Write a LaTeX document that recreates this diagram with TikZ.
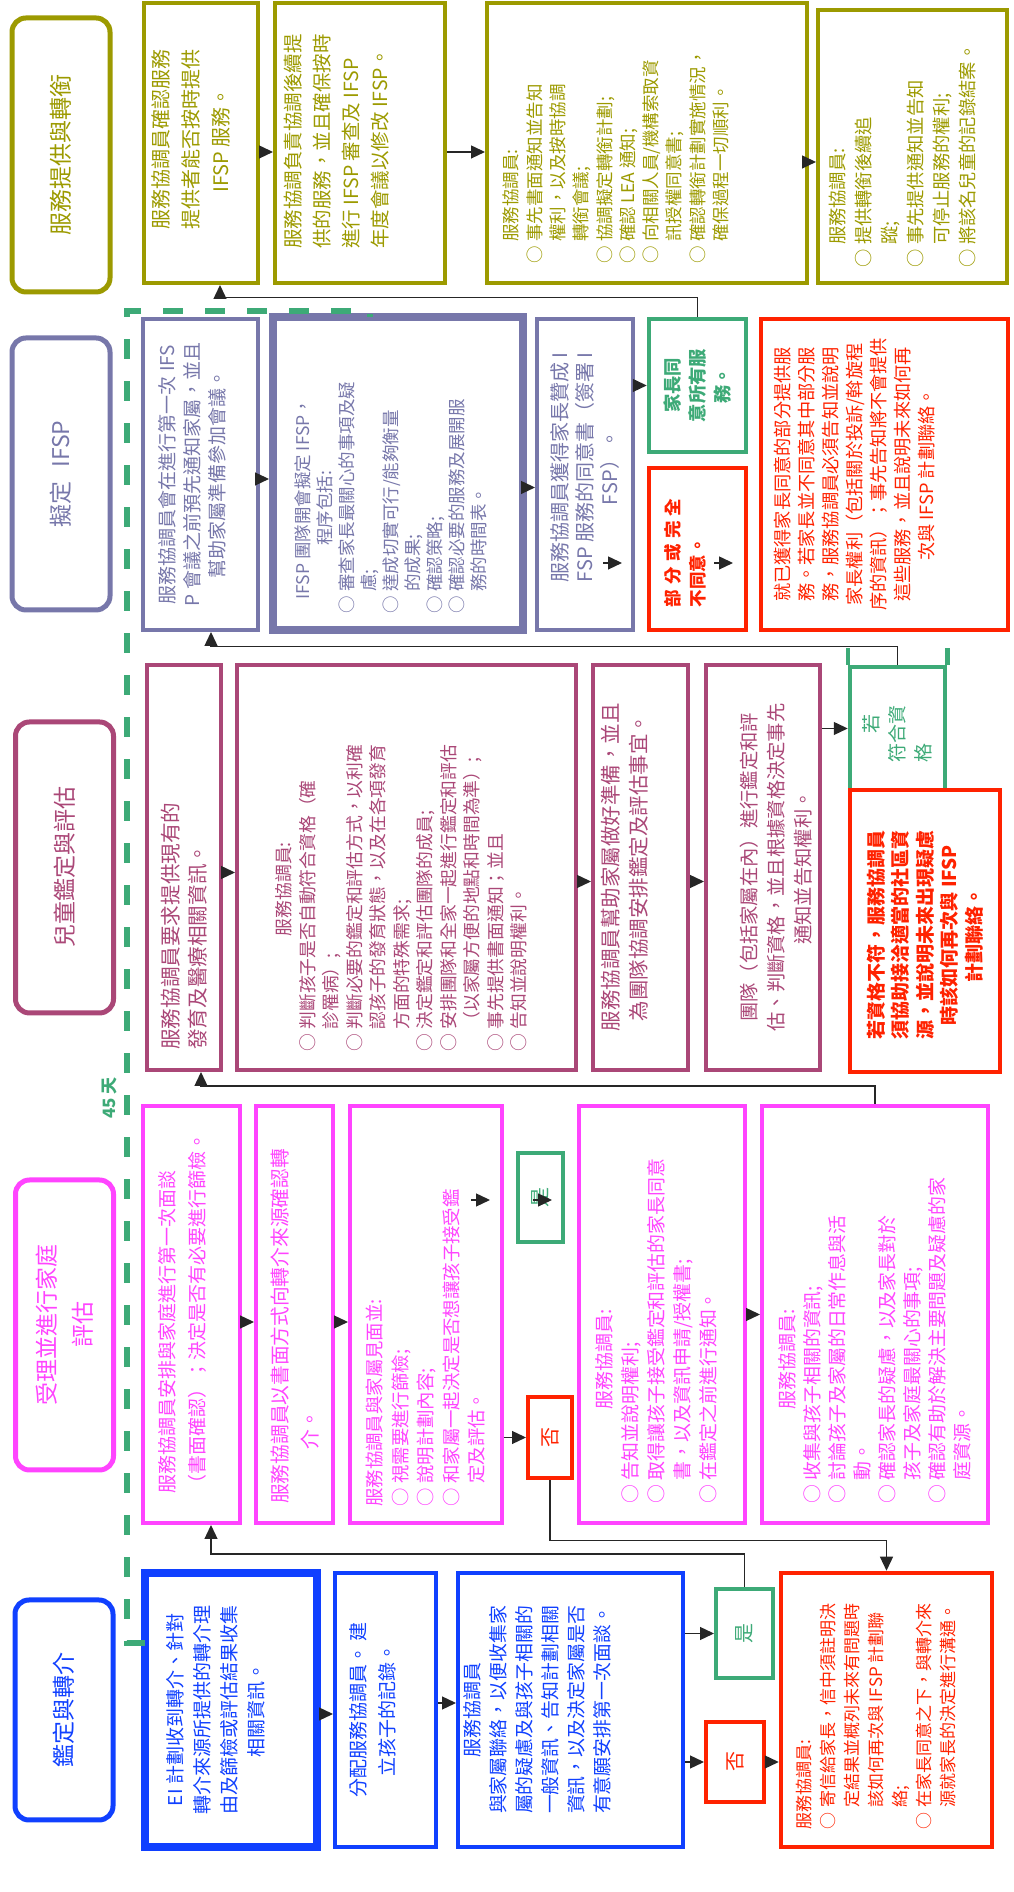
\documentclass[tikz,border=0pt]{standalone}
\usepackage{fontspec}
\setmainfont{Noto Sans CJK TC}
\usetikzlibrary{arrows.meta}

\definecolor{olv}{HTML}{9C9A00}
\definecolor{prp}{HTML}{7777AA}
\definecolor{mve}{HTML}{AA4777}
\definecolor{mag}{HTML}{FF44FF}
\definecolor{blu}{HTML}{1040FF}
\definecolor{rd}{HTML}{FF2200}
\definecolor{grn}{HTML}{3DAA77}

\newcommand{\setfs}[2]{\fontsize{#1}{#2}\selectfont}
\newcommand{\bu}{○\hspace{.25em}}
\newcommand{\ct}{\hspace*{1.25em}}

\tikzset{
  stage/.style={draw=#1, text=#1, line width=5pt, rounded corners=14pt, minimum height=98, align=center, font=\setfs{23}{36}},
  bx/.style={draw=#1, line width=4pt, inner sep=0pt},
  tx/.style={text=#1, inner sep=0pt, align=left},
  arr/.style={draw=black!85, line width=1.3pt, -{Triangle[length=14pt,width=13pt]}},
}

\begin{document}
\begin{tikzpicture}[x=1pt, y=1pt, rotate=90, transform shape]
\useasboundingbox (0,-1013) rectangle (1892,0);

% phase 5: service and transition
\node[stage=olv, minimum width=274] (L5) at (1737,-61) {服務提供與轉銜};
\node[bx=olv, minimum width=280, minimum height=114] (A) at (1749,-201) {};
\node[tx=olv, align=center, font=\setfs{20}{30}] (At) at ([shift={(3,10)}]A.center) {服務協調員確認服務\\提供者能否按時提供\\IFSP 服務。};
\node[bx=olv, minimum width=280, minimum height=170] (B) at (1749,-360) {};
\node[tx=olv, anchor=west, font=\setfs{19.5}{29}] (Bt) at ([shift={(36,23)}]B.west) {服務協調負責協調後續提\\供的服務，並且確保按時\\進行 IFSP 審查及 IFSP\\年度會議以修改 IFSP。};
\node[bx=olv, minimum width=280, minimum height=320] (C) at (1749,-647) {};
\node[tx=olv, anchor=west, font=\setfs{17.5}{23.3}] (Ct) at ([shift={(21,31)}]C.west) {\ct 服務協調員:\\
\bu 事先書面通知並告知\\
\ct 權利，以及按時協調\\
\ct 轉銜會議;\\
\bu 協調擬定轉銜計劃;\\
\bu 確認 LEA 通知;\\
\bu 向相關人員/機構索取資\\
\ct 訊授權同意書;\\
\bu 確認轉銜計劃實施情況，\\
\ct 確保過程一切順利。};
\node[bx=olv, minimum width=273, minimum height=189] (D) at (1745.5,-912.5) {};
\node[tx=olv, anchor=west, font=\setfs{18.3}{26}] (Dt) at ([shift={(17,10)}]D.west) {\ct 服務協調員:\\
\bu 提供轉銜後續追\\
\ct 蹤;\\
\bu 事先提供通知並告知\\
\ct 可停止服務的權利;\\
\bu 將該名兒童的記錄結案。};

% phase 4: IFSP
\node[stage=prp, minimum width=272] (L4) at (1418,-61) {擬定\hspace{.6em}IFSP};
\node[bx=prp, minimum width=311, minimum height=115] (E) at (1417.5,-200.5) {};
\node[tx=prp, align=center, font=\setfs{19}{25}] (Et) at ([yshift=8]E.center) {服務協調員會在進行第一次 IFS\\P 會議之前預先通知家屬，並且\\幫助家屬準備參加會議。};
\node[bx=prp, line width=8pt, minimum width=313, minimum height=250] (F) at (1418.5,-398) {};
\node[tx=prp, anchor=west, font=\setfs{17.5}{22}] (Ft) at ([shift={(20,7)}]F.west) {\hspace*{.8em}IFSP 團隊開會擬定 IFSP，\\
\hspace*{3.9em}程序包括:\\
\bu 審查家長最關心的事項及疑\\
\ct 慮;\\
\bu 達成切實可行/能夠衡量\\
\ct 的成果;\\
\bu 確認策略;\\
\bu 確認必要的服務及展開服\\
\ct 務的時間表。};
\node[bx=prp, minimum width=311, minimum height=96] (G) at (1417.5,-585) {};
\node[tx=prp, align=center, font=\setfs{20}{25}] (Gt) at ([xshift=7]G.center) {服務協調員獲得家長贊成 I\\FSP 服務的同意書（簽署 I\\FSP）。};
\node[bx=grn, line width=4.5pt, minimum width=133, minimum height=97] (agree) at (1506.5,-697.5) {};
\node[tx=grn, align=center, font=\bfseries\setfs{18.3}{25}] (agreet) at (agree.center) {家長同\\意所有服\\務。};
\node[bx=rd, line width=4.5pt, minimum width=162, minimum height=97] (part) at (1343,-697.5) {};
\node[tx=rd, anchor=west, font=\bfseries\setfs{17.5}{25}] (partt) at ([shift={(25,12)}]part.west) {部\hspace{.3em}分\hspace{.3em}或\hspace{.3em}完\hspace{.3em}全\\不同意。};
\node[bx=rd, line width=4.5pt, minimum width=311, minimum height=247] (H) at (1417.5,-884.5) {};
\node[tx=rd, align=center, font=\setfs{18.2}{24}] (Ht) at ([yshift=30]H.center) {就已獲得家長同意的部分提供服\\
務。若家長並不同意其中部分服\\
務，服務協調員必須告知並說明\\
家長權利（包括關於投訴/斡旋程\\
序的資訊）；事先告知將不會提供\\
這些服務，並且說明未來如何再\\
次與 IFSP 計劃聯絡。};

% phase 3: evaluation and assessment
\node[stage=mve, minimum width=291] (L3) at (1024.5,-64.5) {兒童鑑定與評估};
\node[bx=mve, minimum width=405, minimum height=74] (I) at (1024.5,-184) {};
\node[tx=mve, anchor=west, font=\setfs{20.6}{27}] (It) at ([xshift=22]I.west) {服務協調員要求提供現有的\\發育及醫療相關資訊。};
\node[bx=mve, minimum width=405, minimum height=339] (J) at (1024.5,-406.5) {};
\node[tx=mve, anchor=west, font=\setfs{17.8}{23.5}] (Jt) at ([shift={(20,5)}]J.west) {\hspace*{6.5em}服務協調員:\\
\bu 判斷孩子是否自動符合資格（確\\
\ct 診罹病）;\\
\bu 判斷必要的鑑定和評估方式，以利確\\
\ct 認孩子的發育狀態，以及在各項發育\\
\ct 方面的特殊需求;\\
\bu 決定鑑定和評估團隊的成員;\\
\bu 安排團隊和全家一起進行鑑定和評估\\
\ct （以家屬方便的地點和時間為準）;\\
\bu 事先提供書面通知；並且\\
\bu 告知並說明權利。};
\node[bx=mve, minimum width=405, minimum height=95] (K) at (1024.5,-640.5) {};
\node[tx=mve, align=center, font=\setfs{20.5}{28}] (Kt) at ([yshift=16]K.center) {服務協調員幫助家屬做好準備，並且\\為團隊協調安排鑑定及評估事宜。};
\node[bx=mve, minimum width=405, minimum height=114] (L) at (1024.5,-763) {};
\node[tx=mve, align=center, font=\setfs{19.3}{27}] (Lt) at ([yshift=-13]L.center) {團隊（包括家屬在內）進行鑑定和評\\估、判斷資格，並且根據資格決定事先\\通知並告知權利。};
\node[bx=grn, line width=4.5pt, minimum width=123, minimum height=95] (elig) at (1163.5,-897.5) {};
\node[tx=grn, anchor=west, font=\setfs{19}{26}] (eligt) at ([xshift=30]elig.west) {\hspace*{1.5em}若\\符合資\\格};
\node[bx=rd, line width=4.5pt, minimum width=282, minimum height=150] (M) at (961,-925) {};
\node[tx=rd, align=center, font=\bfseries\setfs{19}{24.5}] (Mt) at ([xshift=-4]M.center) {若資格不符，服務協調員\\須協助接洽適當的社區資\\源，並說明未來出現疑慮\\時該如何再次與 IFSP\\計劃聯絡。};

% phase 2: intake and family assessment
\node[stage=mag, minimum width=290] (L2) at (567,-64.5) {受理並進行家庭\\評估};
\node[bx=mag, minimum width=417, minimum height=97] (P1) at (577.5,-191.5) {};
\node[tx=mag, anchor=west, font=\setfs{19}{30}] (P1t) at ([shift={(31,9.5)}]P1.west) {服務協調員安排與家庭進行第一次面談\\（書面確認）；決定是否有必要進行篩檢。};
\node[bx=mag, minimum width=417, minimum height=77] (P2) at (577.5,-294.5) {};
\node[tx=mag, anchor=west, font=\setfs{19.7}{30}] (P2t) at ([xshift=21]P2.west) {服務協調員以書面方式向轉介來源確認轉\\\hspace*{2.75em}介。};
\node[bx=mag, minimum width=417, minimum height=152] (P3) at (577.5,-426) {};
\node[tx=mag, anchor=west, font=\setfs{18.4}{25.5}] (P3t) at ([xshift=18]P3.west) {服務協調員與家屬見面並:\\
\bu 視需要進行篩檢;\\
\bu 說明計劃內容;\\
\bu 和家屬一起決定是否想讓孩子接受鑑\\
\ct 定及評估。};
\node[bx=grn, text=grn, font=\setfs{20}{24}, minimum width=89, minimum height=45] (yes2) at (694.5,-540.5) {是};
\node[bx=rd, text=rd, font=\setfs{20}{24}, minimum width=81, minimum height=44] (no2) at (454.5,-550) {否};
\node[bx=mag, minimum width=417, minimum height=166] (P4) at (577.5,-662) {};
\node[tx=mag, anchor=west, font=\setfs{18.9}{26}] (P4t) at ([shift={(21,5.5)}]P4.west) {\hspace*{5em}服務協調員:\\
\bu 告知並說明權利;\\
\bu 取得讓孩子接受鑑定和評估的家長同意\\
\ct 書，以及資訊申請/授權書;\\
\bu 在鑑定之前進行通知。};
\node[bx=mag, minimum width=417, minimum height=226] (P5) at (577.5,-875) {};
\node[tx=mag, anchor=west, font=\setfs{18.9}{25}] (P5t) at ([xshift=21]P5.west) {\hspace*{5em}服務協調員:\\
\bu 收集與孩子相關的資訊;\\
\bu 討論孩子及家屬的日常作息與活\\
\ct 動。\\
\bu 確認家長的疑慮，以及家長對於\\
\ct 孩子及家庭最關心的事項;\\
\bu 確認有助於解決主要問題及疑慮的家\\
\ct 庭資源。};

% phase 1: identification and referral
\node[stage=blu, minimum width=220] (L1) at (182,-64) {鑑定與轉介};
\node[bx=blu, line width=8pt, minimum width=274, minimum height=172] (B1) at (182,-231) {};
\node[tx=blu, align=center, font=\setfs{19}{27}] (B1t) at ([yshift=15]B1.center) {EI 計劃收到轉介、針對\\轉介來源所提供的轉介理\\由及篩檢或評估結果收集\\相關資訊。};
\node[bx=blu, minimum width=274, minimum height=101] (B2) at (182,-385.5) {};
\node[tx=blu, align=center, font=\setfs{19}{29}] (B2t) at ([yshift=13]B2.center) {分配服務協調員。 建\\立孩子的記錄。};
\node[bx=blu, minimum width=274, minimum height=225] (B3) at (182,-570.5) {};
\node[tx=blu, align=center, font=\setfs{18.9}{26}] (B3t) at ([yshift=33]B3.center) {服務協調員\\
與家屬聯絡，以便收集家\\
屬的疑慮及與孩子相關的\\
一般資訊、告知計劃相關\\
資訊，以及決定家屬是否\\
有意願安排第一次面談。};
\node[bx=grn, text=grn, font=\setfs{20}{24}, minimum width=89, minimum height=57] (yes1) at (258.5,-744.5) {是};
\node[bx=rd, text=rd, font=\setfs{20}{24}, minimum width=80, minimum height=58] (no1) at (130,-735) {否};
\node[bx=rd, line width=4.5pt, minimum width=274, minimum height=211] (R) at (182,-886.5) {};
\node[tx=rd, anchor=west, font=\setfs{17}{24}] (Rt) at ([shift={(20,10)}]R.west) {服務協調員:\\
\bu 寄信給家長，信中須註明決\\
\ct 定結果並概列未來有問題時\\
\ct 該如何再次與 IFSP 計劃聯\\
\ct 絡;\\
\bu 在家長同意之下，與轉介來\\
\ct 源就家長的決定進行溝通。};

% 45 days line
\draw[grn, line width=6pt, dash pattern=on 20pt off 22pt] (249,-145) -- (249,-127) -- (1581,-127) -- (1581,-370) -- (1575,-370);
\node[text=grn, font=\bfseries\setfs{17}{20}] (days) at (794,-109) {45 天};

% short arrow stubs
\coordinate (g1) at (1329,-603);
\coordinate (g2) at (1329,-622);
\coordinate (g3) at (1329,-714);
\coordinate (g4) at (1329,-733);
\coordinate (s1) at (692,-471);
\coordinate (s2) at (692,-490);
\coordinate (s3) at (692,-533);
\coordinate (s4) at (692,-552);

% arrows phase 5
\draw[arr] ([xshift=-9]A.south) -- ([xshift=-9]A.south |- B.north);
\draw[arr] ([xshift=-9]B.south) -- ([xshift=-9]B.south |- C.north);
\draw[arr] ([xshift=-19]C.south) -- ([xshift=-19]C.south |- D.north);
% arrows phase 4
\draw[arr] ([xshift=-4.5]E.south) -- ([xshift=-4.5]E.south |- F.north);
\draw[arr] ([xshift=-14]F.south) -- ([xshift=-14]F.south |- G.north);
\draw[arr] (G.south -| agree.north) -- (agree.north);
\draw[arr] (g1) -- (g2);
\draw[arr] (g3) -- (g4);
\draw[arr] (agree.east) -- ++(19,0) |- ([yshift=-19]A.west);
% arrows phase 3
\draw[arr] ([xshift=-5]I.south) -- ([xshift=-5]I.south |- J.north);
\draw[arr] ([xshift=-14]J.south) -- ([xshift=-14]J.south |- K.north);
\draw[arr] ([xshift=-14]K.south) -- ([xshift=-14]K.south |- L.north);
\draw[arr] (L.south -| elig.north) -- (elig.north);
\draw[grn, line width=4.5pt] (elig.north east) -- ++(17,0) (elig.south east) -- ++(17,0);
\draw[arr] (elig.east) -- ++(18,0) |- ([yshift=-10.5]E.west);
% arrows phase 2
\draw[arr] ([xshift=-7.5]P1.south) -- ([xshift=-7.5]P1.south |- P2.north);
\draw[arr] ([xshift=-7.5]P2.south) -- ([xshift=-7.5]P2.south |- P3.north);
\draw[arr] (s1) -- (s2);
\draw[arr] (s3) -- (s4);
\draw[arr] (P3.south -| no2.north) -- (no2.north);
\draw[arr] (P4.south) -- (P4.south |- P5.north);
\draw[arr] (no2.west) -- ++(-60.5,0) |- (R.east);
\draw[arr] (P5.east) -- ++(18,0) |- ([yshift=-17]I.west);
% arrows phase 1
\draw[arr] ([xshift=-4]B1.south) -- ([xshift=-4]B1.south |- B2.north);
\draw[arr] ([xshift=7]B2.south) -- ([xshift=7]B2.south |- B3.north);
\draw[arr] (B3.south -| yes1.north) -- (yes1.north);
\draw[arr] (B3.south -| no1.north) -- (no1.north);
\draw[arr] (no1.south) -- (no1.south |- R.north);
\draw[arr] (yes1.east) -- ++(33,0) |- ([yshift=-19.5]P1.west);
\end{tikzpicture}
\end{document}
